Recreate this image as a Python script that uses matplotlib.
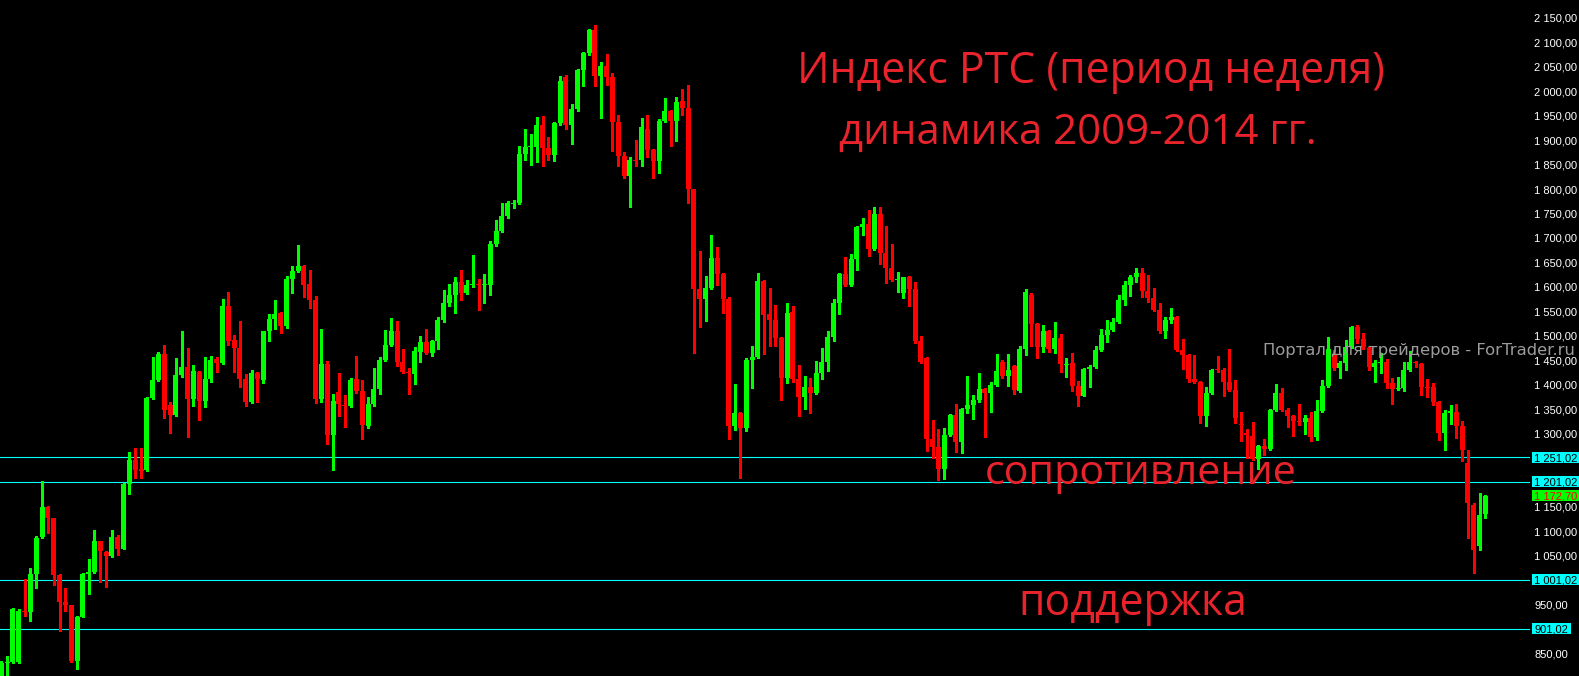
import matplotlib
matplotlib.use("Agg")
import matplotlib.pyplot as plt
from matplotlib.patches import Rectangle
import numpy as np

# ---------------- data (weekly RTS index candles) ----------------
opens = [790, 831, 833, 833, 938, 936, 1013, 1088, 1150, 1127,
         1011, 955, 949, 835, 925, 1013, 1016, 1080, 1058, 1050,
         1088, 1064, 1197, 1246, 1227, 1225, 1372, 1409, 1462, 1358,
         1338, 1419, 1436, 1370, 1426, 1366, 1411, 1452, 1444, 1560,
         1491, 1475, 1411, 1364, 1424, 1409, 1509, 1534, 1546, 1520,
         1616, 1632, 1642, 1606, 1573, 1370, 1442, 1297, 1385, 1359,
         1356, 1411, 1387, 1315, 1360, 1391, 1450, 1481, 1509, 1446,
         1425, 1422, 1466, 1487, 1465, 1489, 1532, 1567, 1583, 1610,
         1587, 1604, 1606, 1603, 1604, 1687, 1714, 1745, 1770, 1771,
         1871, 1885, 1886, 1931, 1884, 1869, 1935, 2029, 1931, 1963,
         2043, 2078, 2125, 2031, 2051, 2029, 1937, 1867, 1827, 1860,
         1859, 1923, 1880, 1857, 1939, 1959, 1939, 1980, 1966, 1800,
         1595, 1575, 1597, 1659, 1626, 1575, 1315, 1342, 1311, 1450,
         1456, 1612, 1544, 1532, 1495, 1413, 1548, 1411, 1375, 1395,
         1383, 1424, 1446, 1497, 1567, 1626, 1604, 1657, 1722, 1728,
         1677, 1749, 1669, 1638, 1613, 1587, 1620, 1595, 1489, 1454,
         1289, 1272, 1227, 1297, 1338, 1283, 1350, 1358, 1368, 1391,
         1383, 1399, 1446, 1418, 1438, 1387, 1473, 1583, 1524, 1477,
         1509, 1473, 1495, 1441, 1444, 1397, 1377, 1432, 1436, 1471,
         1501, 1511, 1528, 1573, 1604, 1620, 1628, 1591, 1577, 1552,
         1509, 1532, 1538, 1471, 1460, 1411, 1405, 1336, 1383, 1431,
         1430, 1405, 1389, 1320, 1301, 1295, 1248, 1274, 1268, 1348,
         1383, 1348, 1336, 1326, 1324, 1332, 1293, 1346, 1397, 1462,
         1434, 1444, 1477, 1518, 1493, 1475, 1436, 1445, 1446, 1403,
         1391, 1393, 1430, 1446, 1442, 1396, 1395, 1364, 1301, 1342,
         1344, 1315, 1240, 1154, 1070, 1135]

highs = [835, 845, 943, 941, 1002, 1025, 1090, 1203, 1151, 1128,
         1012, 985, 950, 927, 1014, 1043, 1103, 1081, 1060, 1103,
         1092, 1198, 1262, 1270, 1270, 1374, 1456, 1466, 1481, 1364,
         1454, 1509, 1475, 1440, 1428, 1456, 1458, 1456, 1575, 1590,
         1501, 1530, 1421, 1430, 1426, 1510, 1544, 1573, 1548, 1622,
         1642, 1685, 1644, 1634, 1581, 1514, 1448, 1380, 1424, 1379,
         1414, 1458, 1409, 1374, 1434, 1456, 1512, 1536, 1530, 1473,
         1434, 1477, 1499, 1514, 1491, 1538, 1593, 1606, 1620, 1634,
         1614, 1665, 1616, 1626, 1693, 1736, 1771, 1776, 1777, 1888,
         1922, 1912, 1947, 1949, 1906, 1937, 2031, 2033, 1974, 2045,
         2080, 2127, 2135, 2060, 2076, 2037, 1951, 1876, 1865, 1900,
         1945, 1951, 1882, 1943, 1986, 1961, 1988, 2004, 2013, 1801,
         1673, 1622, 1706, 1681, 1628, 1579, 1401, 1344, 1454, 1479,
         1628, 1614, 1597, 1563, 1497, 1567, 1561, 1440, 1418, 1413,
         1448, 1475, 1509, 1575, 1628, 1661, 1667, 1724, 1741, 1757,
         1763, 1763, 1724, 1687, 1630, 1621, 1622, 1610, 1499, 1456,
         1328, 1309, 1311, 1340, 1360, 1352, 1418, 1379, 1424, 1393,
         1405, 1462, 1450, 1462, 1440, 1479, 1595, 1587, 1526, 1522,
         1511, 1528, 1503, 1454, 1464, 1407, 1434, 1440, 1479, 1514,
         1532, 1536, 1583, 1612, 1624, 1638, 1638, 1624, 1597, 1567,
         1538, 1557, 1540, 1493, 1462, 1460, 1407, 1395, 1432, 1458,
         1434, 1473, 1409, 1344, 1309, 1323, 1276, 1289, 1350, 1401,
         1393, 1352, 1338, 1360, 1338, 1344, 1368, 1409, 1497, 1471,
         1448, 1491, 1520, 1522, 1505, 1477, 1450, 1464, 1452, 1413,
         1415, 1446, 1469, 1448, 1444, 1411, 1403, 1366, 1348, 1358,
         1360, 1325, 1266, 1158, 1178, 1174]

lows = [780, 800, 830, 830, 927, 917, 984, 1086, 1096, 990,
        897, 937, 832, 818, 924, 972, 1014, 997, 987, 1048,
        1051, 1063, 1176, 1209, 1209, 1224, 1370, 1408, 1332, 1301,
        1335, 1415, 1293, 1356, 1328, 1354, 1405, 1426, 1443, 1481,
        1426, 1395, 1356, 1362, 1364, 1404, 1490, 1514, 1505, 1516,
        1587, 1630, 1579, 1557, 1362, 1364, 1278, 1225, 1336, 1313,
        1354, 1383, 1289, 1311, 1356, 1381, 1448, 1479, 1438, 1424,
        1381, 1401, 1446, 1463, 1458, 1473, 1528, 1561, 1546, 1573,
        1585, 1600, 1552, 1567, 1583, 1683, 1712, 1741, 1761, 1769,
        1859, 1849, 1855, 1847, 1859, 1857, 1931, 1922, 1892, 1960,
        2010, 2074, 2010, 1945, 2013, 1878, 1847, 1822, 1763, 1847,
        1847, 1865, 1822, 1833, 1937, 1888, 1898, 1951, 1771, 1465,
        1518, 1530, 1595, 1604, 1546, 1289, 1307, 1209, 1305, 1393,
        1454, 1462, 1479, 1479, 1368, 1403, 1405, 1336, 1350, 1342,
        1381, 1411, 1428, 1489, 1544, 1602, 1602, 1634, 1706, 1663,
        1675, 1647, 1608, 1612, 1589, 1577, 1561, 1485, 1444, 1264,
        1250, 1205, 1207, 1295, 1262, 1260, 1342, 1330, 1364, 1293,
        1344, 1397, 1414, 1397, 1381, 1385, 1460, 1479, 1454, 1466,
        1466, 1464, 1426, 1415, 1387, 1356, 1376, 1395, 1434, 1469,
        1487, 1509, 1526, 1563, 1581, 1610, 1579, 1569, 1550, 1505,
        1495, 1526, 1469, 1432, 1405, 1403, 1321, 1315, 1381, 1426,
        1377, 1387, 1321, 1285, 1250, 1246, 1227, 1256, 1266, 1346,
        1346, 1313, 1295, 1317, 1299, 1285, 1287, 1344, 1395, 1430,
        1413, 1430, 1475, 1485, 1473, 1430, 1405, 1424, 1393, 1360,
        1389, 1387, 1428, 1436, 1379, 1375, 1358, 1287, 1266, 1319,
        1291, 1244, 1086, 1015, 1062, 1127]

closes = [831, 833, 941, 937, 936, 1013, 1086, 1150, 1127, 1011,
          956, 949, 835, 925, 1013, 1016, 1080, 1060, 1050, 1088,
          1064, 1197, 1246, 1225, 1224, 1372, 1409, 1462, 1348, 1338,
          1419, 1436, 1370, 1428, 1366, 1411, 1450, 1444, 1561, 1489,
          1475, 1411, 1364, 1424, 1411, 1509, 1534, 1544, 1520, 1616,
          1632, 1642, 1604, 1573, 1370, 1442, 1297, 1366, 1360, 1357,
          1409, 1387, 1317, 1360, 1391, 1450, 1481, 1509, 1446, 1426,
          1423, 1469, 1487, 1465, 1489, 1532, 1567, 1583, 1610, 1587,
          1604, 1606, 1603, 1605, 1687, 1714, 1745, 1771, 1772, 1871,
          1886, 1887, 1931, 1884, 1869, 1935, 2021, 1931, 1963, 2043,
          2078, 2125, 2031, 2051, 2029, 1937, 1867, 1827, 1859, 1858,
          1927, 1880, 1857, 1939, 1959, 1939, 1978, 1966, 1800, 1595,
          1575, 1597, 1659, 1626, 1575, 1315, 1342, 1311, 1450, 1456,
          1612, 1542, 1532, 1495, 1413, 1546, 1411, 1375, 1395, 1383,
          1424, 1446, 1497, 1567, 1626, 1604, 1657, 1722, 1728, 1677,
          1749, 1669, 1638, 1614, 1615, 1620, 1595, 1489, 1446, 1289,
          1272, 1227, 1297, 1338, 1283, 1350, 1358, 1368, 1391, 1383,
          1399, 1428, 1418, 1430, 1389, 1473, 1589, 1524, 1477, 1509,
          1473, 1495, 1442, 1443, 1397, 1377, 1432, 1435, 1471, 1501,
          1511, 1528, 1573, 1604, 1620, 1628, 1591, 1577, 1552, 1509,
          1532, 1538, 1471, 1460, 1411, 1405, 1336, 1383, 1430, 1429,
          1405, 1389, 1332, 1318, 1297, 1248, 1274, 1268, 1348, 1383,
          1348, 1336, 1326, 1324, 1332, 1293, 1346, 1397, 1473, 1434,
          1444, 1477, 1518, 1493, 1477, 1436, 1444, 1447, 1403, 1391,
          1393, 1430, 1446, 1444, 1395, 1394, 1364, 1301, 1342, 1345,
          1315, 1266, 1158, 1062, 1133, 1172.70]

level_lines = [1251.02, 1201.02, 1001.02, 901.02]
last_price = 1172.70
tick_values = [850, 950, 1050, 1100, 1150] + list(range(1300, 2151, 50))

title_lines = ["Индекс РТС (период неделя)", "динамика 2009-2014 гг."]
resistance_label = "сопротивление"
support_label = "поддержка"
watermark = "Портал для трейдеров - ForTrader.ru"

# ---------------- figure ----------------
W, H = 1579, 676
PLOT_W = 1530
STEP = 5.82  # pixel spacing between candles

fig = plt.figure(figsize=(W / 100, H / 100), dpi=100, facecolor="black")
ax = fig.add_axes([0, 0, PLOT_W / W, 1])
ax.set_facecolor("black")
for s in ax.spines.values():
    s.set_visible(False)

o = np.array(opens, float)
h = np.array(highs, float)
l = np.array(lows, float)
c = np.array(closes, float)
x = np.arange(len(o))

ax.set_xlim(-1.0 / STEP, -1.0 / STEP + PLOT_W / STEP)
ax.set_ylim(804.1, 2186.5)

GREEN = "#00ff00"
RED = "#ff0000"
CYAN = "#00ffff"
colors = np.where(c >= o, GREEN, RED)

# wicks
ax.vlines(x + 0.06, l, h, colors=colors, linewidth=0.75, antialiased=False, zorder=3)
# bodies
min_h = 2.0
body_h = np.maximum(np.abs(c - o), min_h)
body_bot = np.minimum(o, c) - (body_h - np.abs(c - o)) / 2
ax.bar(x + 0.06, body_h, bottom=body_bot, width=0.86, color=colors,
       linewidth=0, antialiased=False, zorder=4)

# support / resistance lines
for lv in level_lines:
    ax.axhline(lv, color=CYAN, linewidth=0.8, zorder=2)


def fmt(v):
    return f"{v:,.2f}".replace(",", " ").replace(".", ",")


# price scale
ax.set_xticks([])
ax.yaxis.tick_right()
ax.set_yticks(tick_values)
ax.set_yticklabels([fmt(v) for v in tick_values])
ax.tick_params(axis="y", length=0, pad=3, labelcolor="white", labelsize=8)
for lab in ax.get_yticklabels():
    lab.set_fontfamily("Liberation Sans")

fig.canvas.draw()
renderer = fig.canvas.get_renderer()
ytr = ax.get_yaxis_transform()
BOX_H = 11 * 2.045  # 11 px in data units


def boxed(value, fc, tc):
    t = ax.text(1.0 + 4.5 / PLOT_W, value, fmt(value), transform=ytr, ha="left",
                va="center_baseline", fontsize=8, family="Liberation Sans", color=tc,
                clip_on=False, zorder=10)
    w = t.get_window_extent(renderer).width
    ax.add_patch(Rectangle((1.0 + 2.0 / PLOT_W, value - BOX_H / 2), (w + 5) / PLOT_W, BOX_H,
                           transform=ytr, facecolor=fc, edgecolor="none",
                           clip_on=False, zorder=9))


for lv in level_lines:
    boxed(lv, CYAN, "black")
boxed(last_price, GREEN, RED)

# ---------------- annotations ----------------
TXT_RED = "#e8232b"


def put(text, cx, baseline, target_w, color, family, ha="center", size=30):
    t = fig.text(cx / W, 1 - baseline / H, text, ha=ha, va="baseline",
                 color=color, fontsize=size, family=family, zorder=20)
    w = t.get_window_extent(renderer).width
    t.set_fontsize(size * target_w / w)
    return t


put(title_lines[0], 1091, 83, 587, TXT_RED, "Open Sans")
put(title_lines[1], 1078, 144, 478, TXT_RED, "Open Sans")
put(resistance_label, 1141, 484, 312, TXT_RED, "Open Sans")
put(support_label, 1133, 615, 228, TXT_RED, "Open Sans")
put(watermark, 1263, 355, 309, "#9c9c9c", "DejaVu Sans", ha="left", size=12)

fig.savefig("out.png", dpi=100, facecolor="black")
